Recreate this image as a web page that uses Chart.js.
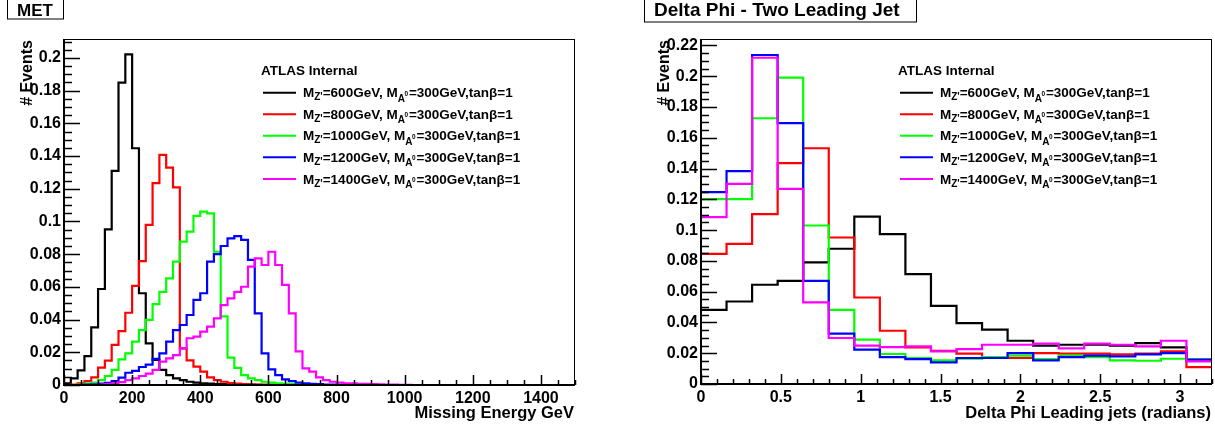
<!DOCTYPE html>
<html>
<head>
<meta charset="utf-8">
<script src="https://cdn.jsdelivr.net/npm/chart.js@4.4.1/dist/chart.umd.min.js"></script>
<style>
body { margin: 0; background: #fff; }
#wrap { position: relative; width: 1215px; height: 429px; }
canvas { position: absolute; top: 0; }
</style>
</head>
<body>
<div id="wrap">
<canvas id="met" width="607" height="429" style="left:0px"></canvas>
<canvas id="dphi" width="608" height="429" style="left:607px"></canvas>
</div>
<script>
// Z' mass points, one histogram each
const mzMasses = [600, 800, 1000, 1200, 1400];
const seriesColors = ['#000000', '#ff0000', '#00ff00', '#0000ff', '#ff00ff'];

// MET : 20 GeV bins, 0 - 1500 GeV
const metBinWidth = 20;
const met600 = [0.001, 0.004, 0.009, 0.0177, 0.0353, 0.0587, 0.0952, 0.1309, 0.1849, 0.2022,
  0.1448, 0.0561, 0.0255, 0.0153, 0.0092, 0.006, 0.004, 0.003, 0.002, 0.0015,
  0.001, 0.0008, 0.0006, 0.0005, 0.0004, 0.0003, 0.0002, 0.0002, 0.0001, 0.0001,
  0.0001, 0, 0, 0, 0, 0, 0, 0, 0, 0, 0, 0, 0, 0, 0, 0, 0, 0, 0, 0,
  0, 0, 0, 0, 0, 0, 0, 0, 0, 0, 0, 0, 0, 0, 0, 0, 0, 0, 0, 0, 0, 0, 0, 0, 0];
const met800 = [0, 0.0003, 0.001, 0.0024, 0.0047, 0.0106, 0.0149, 0.0245, 0.033, 0.0442,
  0.0606, 0.0758, 0.0979, 0.1234, 0.1407, 0.1329, 0.1209, 0.0224, 0.015, 0.0112,
  0.0082, 0.0047, 0.003, 0.002, 0.0012, 0.0008, 0.0005, 0.0003, 0.0002, 0.0001,
  0.0001, 0, 0, 0, 0, 0, 0, 0, 0, 0, 0, 0, 0, 0, 0, 0, 0, 0, 0, 0,
  0, 0, 0, 0, 0, 0, 0, 0, 0, 0, 0, 0, 0, 0, 0, 0, 0, 0, 0, 0, 0, 0, 0, 0, 0];
const met1000 = [0, 0, 0.0003, 0.0008, 0.0015, 0.003, 0.0055, 0.0092, 0.0157, 0.0194,
  0.0265, 0.0336, 0.0398, 0.0495, 0.057, 0.0652, 0.0754, 0.0877, 0.0938, 0.1034,
  0.106, 0.105, 0.0815, 0.042, 0.0168, 0.0105, 0.006, 0.004, 0.003, 0.002,
  0.0015, 0.001, 0.0007, 0.0005, 0.0003, 0.0002, 0.0001, 0.0001, 0, 0,
  0, 0, 0, 0, 0, 0, 0, 0, 0, 0, 0, 0, 0, 0, 0, 0, 0, 0, 0, 0,
  0, 0, 0, 0, 0, 0, 0, 0, 0, 0, 0, 0, 0, 0, 0];
const met1200 = [0, 0, 0, 0.0002, 0.0004, 0.0008, 0.0013, 0.0024, 0.0045, 0.0075,
  0.0086, 0.011, 0.0125, 0.016, 0.0194, 0.0265, 0.0336, 0.0367, 0.0428, 0.052,
  0.0561, 0.0754, 0.08, 0.085, 0.0897, 0.0911, 0.0887, 0.0765, 0.0438, 0.0194,
  0.0096, 0.0061, 0.0035, 0.0024, 0.0015, 0.001, 0.0007, 0.0005, 0.0003, 0.0002,
  0.0001, 0.0001, 0, 0, 0, 0, 0, 0, 0, 0, 0, 0, 0, 0, 0, 0, 0, 0, 0, 0,
  0, 0, 0, 0, 0, 0, 0, 0, 0, 0, 0, 0, 0, 0, 0];
const met1400 = [0, 0, 0, 0, 0.0001, 0.0003, 0.0006, 0.001, 0.0018, 0.003,
  0.004, 0.0055, 0.007, 0.0092, 0.0143, 0.0163, 0.0183, 0.0224, 0.0286, 0.0296,
  0.0326, 0.0357, 0.0408, 0.0489, 0.053, 0.057, 0.0601, 0.0724, 0.0775, 0.0734,
  0.0815, 0.0734, 0.0612, 0.0438, 0.0206, 0.0102, 0.0082, 0.0047, 0.003, 0.002,
  0.0015, 0.001, 0.001, 0.0007, 0.0007, 0.0005, 0.0004, 0.0003, 0.0002, 0.0001,
  0.0001, 0, 0, 0, 0, 0, 0, 0, 0, 0, 0, 0, 0, 0, 0, 0, 0, 0, 0, 0, 0, 0, 0, 0, 0];

// delta phi of the two leading jets : 0.16 rad bins, 0 - 3.2
const dphiBinWidth = 0.16;
const dphi600 = [0.0482, 0.0536, 0.0645, 0.067, 0.079, 0.0879, 0.1088, 0.0974, 0.0714, 0.0508,
  0.0396, 0.0353, 0.0281, 0.0249, 0.0255, 0.0255, 0.025, 0.0266, 0.0238, 0.0151];
const dphi800 = [0.0846, 0.0911, 0.1104, 0.1435, 0.1532, 0.0952, 0.0562, 0.0346, 0.0238, 0.0216,
  0.0197, 0.0175, 0.0169, 0.0201, 0.0197, 0.0197, 0.0193, 0.0197, 0.0212, 0.011];
const dphi1000 = [0.1201, 0.1201, 0.1727, 0.1991, 0.103, 0.0482, 0.0288, 0.0195, 0.0169, 0.0153,
  0.0164, 0.0175, 0.0184, 0.0162, 0.0184, 0.0175, 0.0153, 0.0151, 0.0164, 0.016];
const dphi1200 = [0.1247, 0.1383, 0.2138, 0.1695, 0.067, 0.0327, 0.0223, 0.0175, 0.0162, 0.014,
  0.0169, 0.0169, 0.0201, 0.0153, 0.0175, 0.0184, 0.018, 0.0193, 0.0201, 0.0158];
const dphi1400 = [0.1084, 0.1301, 0.212, 0.1268, 0.053, 0.0299, 0.0249, 0.024, 0.0244, 0.0212,
  0.0227, 0.0255, 0.0255, 0.0262, 0.0231, 0.0262, 0.0255, 0.0244, 0.0281, 0.0147];

const metXTicks = [0, 200, 400, 600, 800, 1000, 1200, 1400];
const metYTicks = [0, 0.02, 0.04, 0.06, 0.08, 0.1, 0.12, 0.14, 0.16, 0.18, 0.2];
const dphiXTicks = [0, 0.5, 1, 1.5, 2, 2.5, 3];
const dphiYTicks = [0, 0.02, 0.04, 0.06, 0.08, 0.1, 0.12, 0.14, 0.16, 0.18, 0.2, 0.22];

const FONT = '"Liberation Sans", Arial, Helvetica, sans-serif';

function histPoints(values, width) {
  const pts = values.map((v, i) => ({ x: i * width, y: v }));
  pts.push({ x: values.length * width, y: values[values.length - 1] });
  return pts;
}

function legendLabel(ctx, x, y, mass) {
  const big = 'bold 13.5px ' + FONT;
  const sub = 'bold 10px ' + FONT;
  const put = (txt, font, dy) => {
    ctx.font = font;
    ctx.fillText(txt, x, y + dy);
    x += ctx.measureText(txt).width;
  };
  put('M', big, 0);
  put("Z'", sub, 3);
  put('=' + mass + 'GeV, M', big, 0);
  put('A', sub, 4.5);
  ctx.font = 'bold 6.5px ' + FONT;
  ctx.fillText('0', x - 0.5, y - 1.5);
  x += 4;
  put('=300GeV,tan\u03b2=1', big, 0);
}

const rootStyle = {
  id: 'rootStyle',
  afterDraw(chart, args, o) {
    const ctx = chart.ctx;
    const a = chart.chartArea;
    const xs = chart.scales.x, ys = chart.scales.y;
    ctx.save();
    ctx.strokeStyle = '#000';
    // frame
    ctx.lineWidth = 1;
    ctx.strokeRect(a.left + 0.5, a.top + 0.5, a.right - a.left - 1, a.bottom - a.top);
    ctx.lineWidth = 2;
    ctx.beginPath();
    ctx.moveTo(a.left, a.top);
    ctx.lineTo(a.left, a.bottom);
    ctx.lineTo(a.right, a.bottom);
    ctx.stroke();
    // inward ticks, ROOT style
    ctx.lineWidth = 1.5;
    ctx.beginPath();
    for (let v = 0; v <= xs.max + 1e-9; v += o.xMinor) {
      const px = Math.round(xs.getPixelForValue(v)) + 0.5;
      const major = o.xTicks.some(t => Math.abs(t - v) < 1e-6);
      ctx.moveTo(px, a.bottom);
      ctx.lineTo(px, a.bottom - (major ? 10 : 5));
    }
    for (let v = 0; v <= ys.max + 1e-9; v += o.yMinor) {
      const py = Math.round(ys.getPixelForValue(v)) + 0.5;
      const major = o.yTicks.some(t => Math.abs(t - v) < 1e-6);
      ctx.moveTo(a.left, py);
      ctx.lineTo(a.left + (major ? 16 : 8), py);
    }
    ctx.stroke();

    ctx.fillStyle = '#000';
    // title box
    ctx.lineWidth = 1;
    ctx.strokeRect(o.box[0] + 0.5, -1, o.box[1] - o.box[0], o.box[2] + 1);
    ctx.font = 'bold ' + o.titleSize + 'px ' + FONT;
    ctx.textAlign = 'left';
    ctx.textBaseline = 'alphabetic';
    ctx.fillText(o.title, o.box[0] + 10, 16);

    // axis titles
    ctx.font = 'bold 16.5px ' + FONT;
    ctx.textAlign = 'right';
    ctx.fillText(o.xTitle, a.right - 1, 417.5);
    ctx.save();
    ctx.translate(a.left - 32, a.top + 1);
    ctx.rotate(-Math.PI / 2);
    ctx.font = 'bold 16px ' + FONT;
    ctx.fillText('# Events', 0, 0);
    ctx.restore();

    // legend
    ctx.textAlign = 'left';
    ctx.font = 'bold 13.5px ' + FONT;
    ctx.fillText('ATLAS Internal', a.left + 197, 75);
    mzMasses.forEach((m, i) => {
      const ly = 92.7 + i * 21.55;
      ctx.strokeStyle = seriesColors[i];
      ctx.lineWidth = 2;
      ctx.beginPath();
      ctx.moveTo(a.left + 199, ly);
      ctx.lineTo(a.left + 232, ly);
      ctx.stroke();
      legendLabel(ctx, a.left + 239, ly + 4.6, m);
    });
    ctx.restore();
  }
};

function makeChart(id, series, binWidth, xMax, yMax, xTicks, yTicks, axisWidth, axisHeight, padRight, style) {
  return new Chart(document.getElementById(id), {
    type: 'line',
    data: {
      datasets: series.map((vals, i) => ({
        data: histPoints(vals, binWidth),
        borderColor: seriesColors[i],
        borderWidth: 2.2,
        stepped: 'before',
        fill: false,
        pointRadius: 0,
        order: series.length - i
      }))
    },
    options: {
      responsive: false,
      animation: false,
      devicePixelRatio: 1,
      events: [],
      layout: { padding: { left: 0, top: 39, right: padRight, bottom: 0 } },
      plugins: { legend: { display: false }, tooltip: { enabled: false }, rootStyle: style },
      scales: {
        x: {
          type: 'linear', min: 0, max: xMax,
          grid: { display: false, drawTicks: false, tickLength: 0 }, border: { display: false },
          afterBuildTicks: s => { s.ticks = xTicks.map(v => ({ value: v })); },
          afterFit: s => { s.height = axisHeight; },
          ticks: {
            autoSkip: false, maxRotation: 0, padding: 4, color: '#000',
            font: { family: FONT, size: 16, weight: 'bold' },
            callback: v => String(v)
          }
        },
        y: {
          type: 'linear', min: 0, max: yMax,
          grid: { display: false, drawTicks: false, tickLength: 0 }, border: { display: false },
          afterBuildTicks: s => { s.ticks = yTicks.map(v => ({ value: v })); },
          afterFit: s => { s.width = axisWidth; },
          ticks: {
            autoSkip: false, padding: 3, color: '#000',
            font: { family: FONT, size: 16, weight: 'bold' },
            callback: v => String(v)
          }
        }
      }
    },
    plugins: [rootStyle]
  });
}

makeChart('met', [met600, met800, met1000, met1200, met1400], metBinWidth, 1500, 0.2116,
  metXTicks, metYTicks, 64, 44, 32,
  { title: 'MET', titleSize: 17, xTitle: 'Missing Energy GeV', box: [7, 63, 19], xTicks: metXTicks, yTicks: metYTicks, xMinor: 50, yMinor: 0.005 });

makeChart('dphi', [dphi600, dphi800, dphi1000, dphi1200, dphi1400], dphiBinWidth, 3.2, 0.2242,
  dphiXTicks, dphiYTicks, 94, 45, 3,
  { title: 'Delta Phi - Two Leading Jet', titleSize: 19, xTitle: 'Delta Phi Leading jets (radians)', box: [37, 309, 22], xTicks: dphiXTicks, yTicks: dphiYTicks, xMinor: 0.1, yMinor: 0.005 });
</script>
</body>
</html>
